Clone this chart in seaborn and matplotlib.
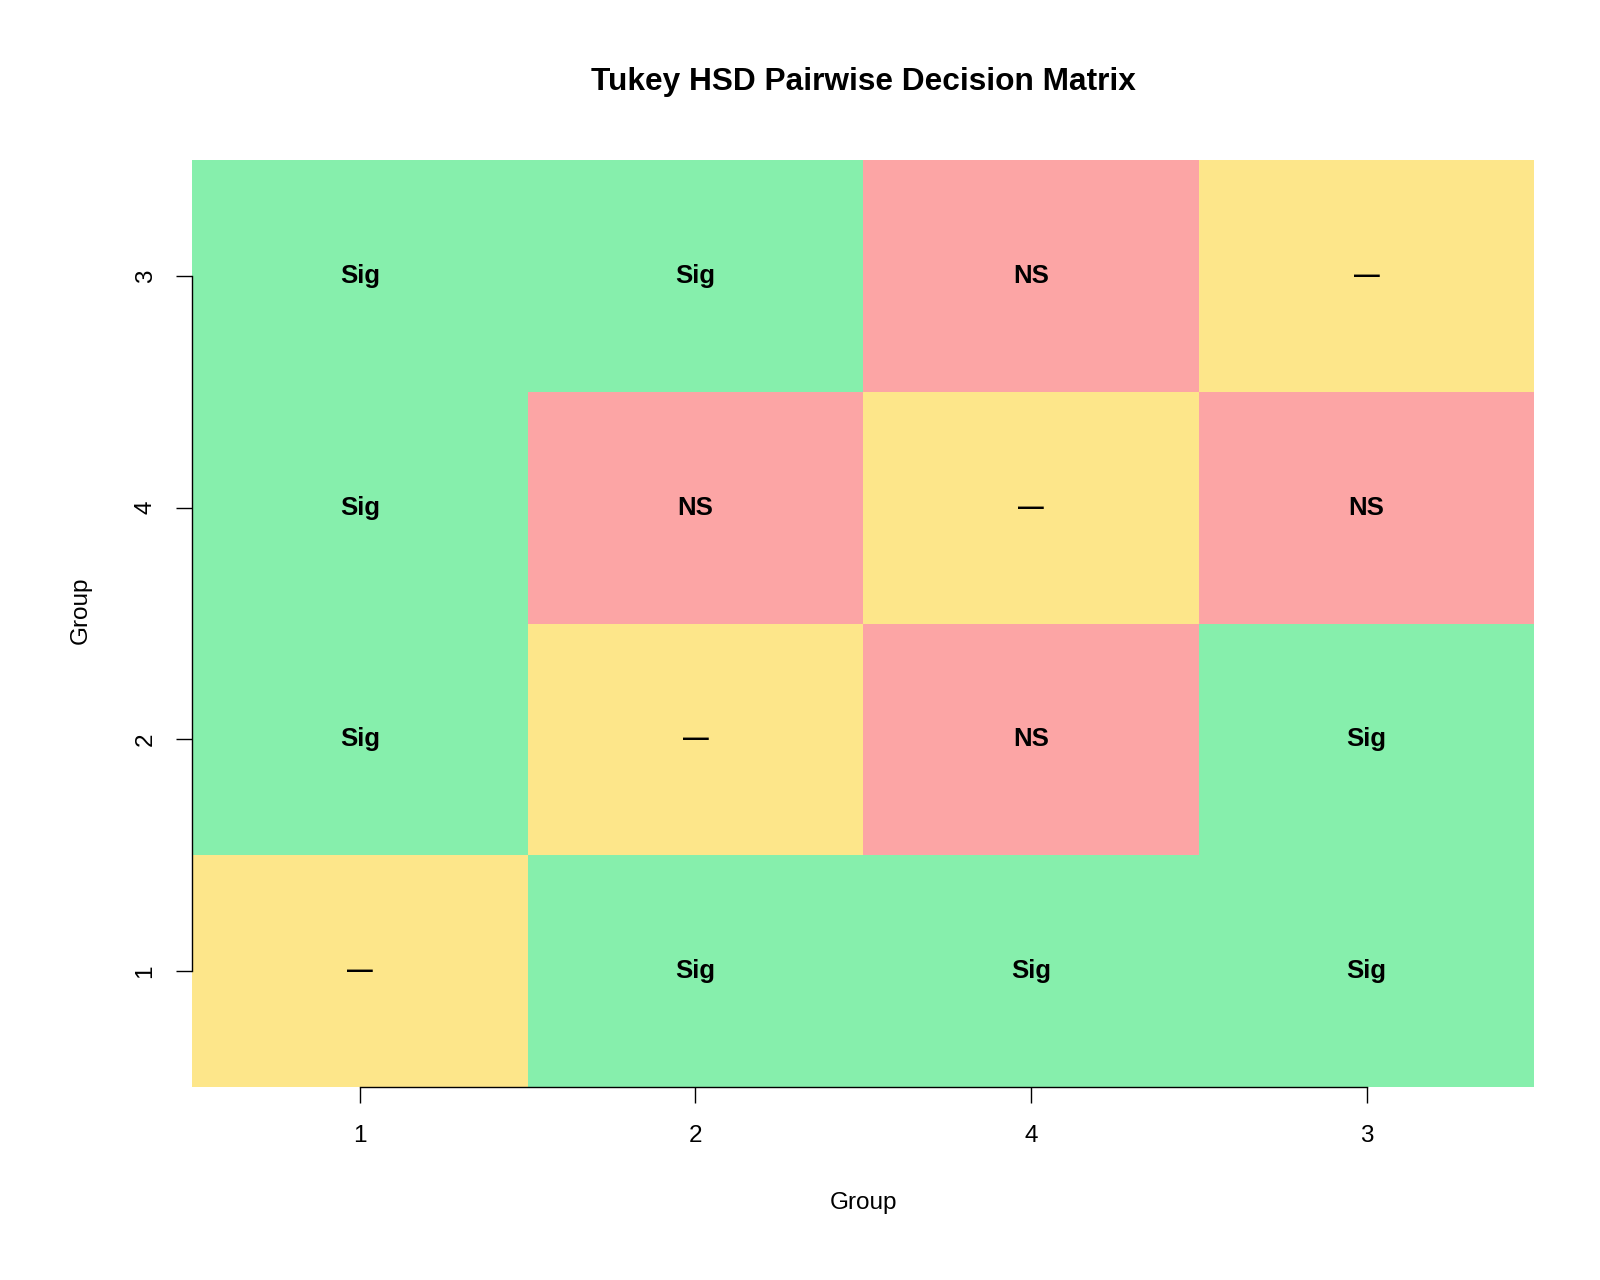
import numpy as np
import pandas as pd
import matplotlib
matplotlib.use("Agg")
import matplotlib.pyplot as plt
from matplotlib.colors import ListedColormap
import seaborn as sns

# ---- data ----
groups_x = ["1", "2", "4", "3"]          # column order (left -> right)
groups_y = ["3", "4", "2", "1"]          # row order (top -> bottom)
row_3 = ["Sig", "Sig", "NS", "—"]
row_4 = ["Sig", "NS", "—", "NS"]
row_2 = ["Sig", "—", "NS", "Sig"]
row_1 = ["—", "Sig", "Sig", "Sig"]
decisions = ["—", "Sig", "NS"]
decision_colors = ["#fde68a", "#86efac", "#fca5a5"]

labels = pd.DataFrame([row_3, row_4, row_2, row_1], index=groups_y, columns=groups_x)
codes = labels.apply(lambda col: col.map({d: i for i, d in enumerate(decisions)}))

sns.set_style("white")
plt.rcParams["font.family"] = ["Liberation Sans", "DejaVu Sans"]
plt.rcParams["text.color"] = "black"

fig = plt.figure(figsize=(16, 12.8), dpi=100)
ax = fig.add_axes([0.12, 1 - 1087 / 1280, 0.839, (1087 - 160) / 1280])

sns.heatmap(codes, ax=ax, cmap=ListedColormap(decision_colors), vmin=-0.5, vmax=2.5,
            cbar=False, annot=labels.values, fmt="",
            annot_kws={"fontsize": 18.5, "fontweight": "bold", "color": "black"},
            linewidths=0)

for side in ["left", "bottom"]:
    ax.spines[side].set_visible(True)
    ax.spines[side].set_color("black")
    ax.spines[side].set_linewidth(1.0)
    ax.spines[side].set_bounds(0.5, 3.5)
for side in ["top", "right"]:
    ax.spines[side].set_visible(False)

ax.set_xticks(np.arange(len(groups_x)) + 0.5)
ax.set_xticklabels(groups_x, rotation=0)
ax.set_yticks(np.arange(len(groups_y)) + 0.5)
ax.set_yticklabels(groups_y, rotation=90, va="center")
ax.tick_params(axis="both", which="both", length=11.5, width=1.0, color="black",
               labelsize=17.5, labelcolor="black", direction="out")
ax.tick_params(axis="x", pad=16, bottom=True)
ax.tick_params(axis="y", pad=14, left=True)

ax.set_xlabel("")
ax.set_ylabel("")
fig.text(0.5 * (0.12 + 0.959), 1 - 1203 / 1280, "Group", ha="center", va="center",
         fontsize=17.5, color="black")
fig.text(81 / 1600, 1 - 610 / 1280, "Group", ha="center", va="center", rotation=90,
         fontsize=17.5, color="black")
fig.text(0.5 * (0.12 + 0.959), 1 - 82 / 1280, "Tukey HSD Pairwise Decision Matrix",
         ha="center", va="center", fontsize=22.8, fontweight="bold", color="black")

fig.savefig("out.png", dpi=100, facecolor="white")
